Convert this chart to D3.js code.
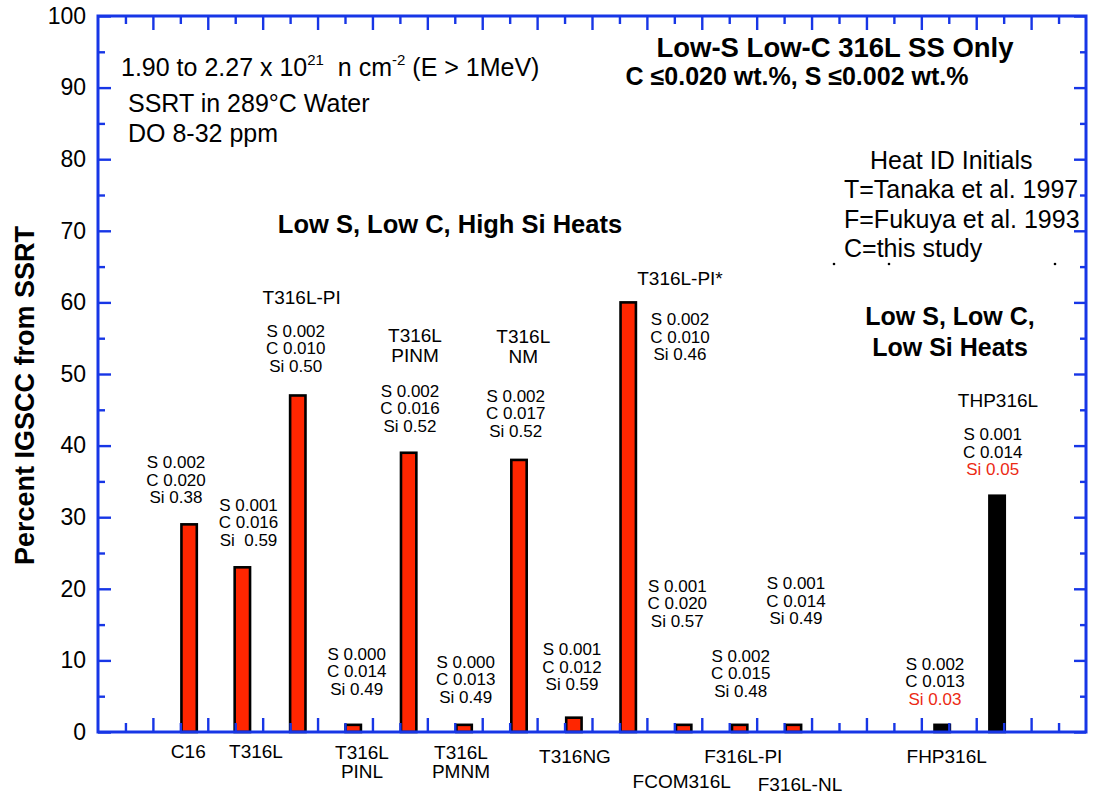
<!DOCTYPE html>
<html><head><meta charset="utf-8">
<script src="https://cdn.jsdelivr.net/npm/d3@7"></script>
<style>
body{margin:0;background:#fff;}
svg{display:block;}
text{font-family:"Liberation Sans",Arial,Helvetica,sans-serif;fill:#000;white-space:pre;}
</style>
</head><body>
<svg id="chart" width="1093" height="797"></svg>
<script>
// ---------- data ----------
const heats = ["C16","T316L","T316L-PI","T316L\nPINL","T316L\nPINM","T316L\nPMNM","T316L\nNM","T316NG","T316L-PI*","FCOM316L","F316L-PI","F316L-NL","FHP316L","THP316L"];
const heatPos = [1.66,2.63,3.64,4.65,5.66,6.67,7.67,8.67,9.66,10.67,11.69,12.67,15.38,16.38];
const igscc = [29,23,47,1,39,1,38,2,60,1,1,1,1,33];
const siGroup = ["high","high","high","high","high","high","high","high","high","high","high","high","low","low"];
const sulfur = ["0.002","0.001","0.002","0.000","0.002","0.000","0.002","0.001","0.002","0.001","0.002","0.001","0.002","0.001"];
const carbon = ["0.020","0.016","0.010","0.014","0.016","0.013","0.017","0.012","0.010","0.020","0.015","0.014","0.013","0.014"];
const silicon = ["0.38"," 0.59","0.50","0.49","0.52","0.49","0.52","0.59","0.46","0.57","0.48","0.49","0.03","0.05"];
const yMajor = [0,10,20,30,40,50,60,70,80,90,100];
const yMinor = [5,15,25,35,45,55,65,75,85,95];
const xMajor = d3.range(1,18);
const xMinor = d3.range(0.5,18,1);

// ---------- label layout (data units) ----------
const compPos = [[1.421,36.83],[2.742,30.87],[3.602,55.21],[4.713,10.06],[5.684,46.83],[6.699,8.98],[7.61,46.13],[8.636,10.75],[10.603,56.84],[10.554,19.6],[11.709,9.82],[12.716,19.97],[15.249,8.66],[16.3,40.78]];
const namePos = [[1.645,-3.67],[2.878,-3.67],[3.711,59.78],[4.81,-3.77],[5.775,54.43],[6.613,-3.77],[7.748,54.29],[8.69,-4.37],[10.603,62.43],[10.634,-7.86],[11.756,-4.37],[12.789,-8.2],[15.462,-4.37],[16.397,45.39]];

// ---------- styles ----------
const BLUE = "#1736e6", RED = "#ff2600", RED_TXT = "#ec2a14";
const m = {left:98, right:1086, top:16, bottom:732};

const svg = d3.select("#chart");
const x = d3.scaleLinear().domain([0,18]).range([m.left, m.right]);
const y = d3.scaleLinear().domain([0,100]).range([m.bottom, m.top]);

// bars
const barW = x(0.28) - x(0);
svg.append("g").selectAll("rect").data(igscc).join("rect")
  .attr("x",(d,i)=>x(heatPos[i]) - barW/2)
  .attr("y",d=>y(d))
  .attr("width",barW)
  .attr("height",d=>y(0)-y(d))
  .attr("fill",(d,i)=>siGroup[i]==="high"?RED:"#000")
  .attr("stroke","#000").attr("stroke-width",2.6);

// axes
function styleAxis(g){
  g.select(".domain").remove();
  g.selectAll(".tick line").attr("stroke",BLUE).attr("stroke-width",2.4);
  g.selectAll(".tick text").attr("fill","#000").style("font-size","23px").style("font-family",'"Liberation Sans",Arial,sans-serif');
}
svg.append("g").attr("transform",`translate(${m.left},0)`)
  .call(d3.axisLeft(y).tickValues(yMajor).tickSize(-13).tickPadding(12).tickFormat(d3.format("d"))).call(styleAxis);
svg.append("g").attr("transform",`translate(${m.left},0)`)
  .call(d3.axisLeft(y).tickValues(yMinor).tickSize(-7).tickFormat("")).call(styleAxis);
svg.append("g").attr("transform",`translate(${m.right},0)`)
  .call(d3.axisRight(y).tickValues(yMajor).tickSize(-12).tickFormat("")).call(styleAxis);
svg.append("g").attr("transform",`translate(${m.right},0)`)
  .call(d3.axisRight(y).tickValues(yMinor).tickSize(-6).tickFormat("")).call(styleAxis);
svg.append("g").attr("transform",`translate(0,${m.bottom})`)
  .call(d3.axisBottom(x).tickValues(xMajor).tickSize(-14).tickFormat("")).call(styleAxis);
svg.append("g").attr("transform",`translate(0,${m.bottom})`)
  .call(d3.axisBottom(x).tickValues(xMinor).tickSize(-9).tickFormat("")).call(styleAxis);
svg.append("g").attr("transform",`translate(0,${m.top})`)
  .call(d3.axisTop(x).tickValues(xMajor).tickSize(-14).tickFormat("")).call(styleAxis);
svg.append("g").attr("transform",`translate(0,${m.top})`)
  .call(d3.axisTop(x).tickValues(xMinor).tickSize(-8).tickFormat("")).call(styleAxis);

// frame
svg.append("rect").attr("x",m.left).attr("y",m.top).attr("width",m.right-m.left).attr("height",m.bottom-m.top)
  .attr("fill","none").attr("stroke",BLUE).attr("stroke-width",3);

// y title
svg.append("text").attr("transform",`translate(34,${(225+566)/2}) rotate(-90)`)
  .attr("text-anchor","middle").style("font-size","27px").style("font-weight","bold")
  .text("Percent IGSCC from SSRT");

// composition labels
const comp = svg.append("g").style("font-size","17px");
heats.forEach((h,i)=>{
  const t = comp.append("text").attr("x",x(compPos[i][0])).attr("y",y(compPos[i][1])).attr("text-anchor","middle");
  t.append("tspan").attr("x",x(compPos[i][0])).attr("dy",0).text("S " + sulfur[i]);
  t.append("tspan").attr("x",x(compPos[i][0])).attr("dy",17.5).text("C " + carbon[i]);
  t.append("tspan").attr("x",x(compPos[i][0])).attr("dy",17.5).text("Si " + silicon[i])
    .style("fill", siGroup[i]==="low" ? RED_TXT : "#000");
});

// heat names
const names = svg.append("g").style("font-size","19px");
heats.forEach((h,i)=>{
  const t = names.append("text").attr("text-anchor","middle").attr("y",y(namePos[i][1]));
  h.split("\n").forEach((line,k)=>{
    t.append("tspan").attr("x",x(namePos[i][0])).attr("dy",k===0?0:19.5).text(line);
  });
});

// annotations
const ann = svg.append("g");
const t1 = ann.append("text").attr("x",121).attr("y",76).style("font-size","25px");
t1.append("tspan").text("1.90 to 2.27 x 10");
t1.append("tspan").attr("dy",-11).style("font-size","15px").text("21");
t1.append("tspan").attr("dy",11).text("  n cm");
t1.append("tspan").attr("dy",-11).style("font-size","15px").text("-2");
t1.append("tspan").attr("dy",11).text(" (E > 1MeV)");
ann.append("text").attr("x",128).attr("y",112).style("font-size","25px").text("SSRT in 289°C Water");
ann.append("text").attr("x",128).attr("y",142).style("font-size","25px").text("DO 8-32 ppm");

ann.append("text").attr("x",835).attr("y",57).attr("text-anchor","middle")
  .style("font-size","27.5px").style("font-weight","bold").text("Low-S Low-C 316L SS Only");
ann.append("text").attr("x",797).attr("y",85).attr("text-anchor","middle")
  .style("font-size","25px").style("font-weight","bold").text("C \u22640.020 wt.%, S \u22640.002 wt.%");

ann.append("text").attr("x",870).attr("y",169).style("font-size","25px").text("Heat ID Initials");
ann.append("text").attr("x",844).attr("y",198).style("font-size","25px").text("T=Tanaka et al. 1997");
ann.append("text").attr("x",844).attr("y",228).style("font-size","25px").text("F=Fukuya et al. 1993");
ann.append("text").attr("x",844).attr("y",257).style("font-size","25px").text("C=this study");
[[834,264],[889,264],[1055,264]].forEach(p=>{
  ann.append("circle").attr("cx",p[0]).attr("cy",p[1]).attr("r",1.3).attr("fill","#000");
});

ann.append("text").attr("x",450).attr("y",233).attr("text-anchor","middle")
  .style("font-size","25.5px").style("font-weight","bold").text("Low S, Low C, High Si Heats");
ann.append("text").attr("x",950).attr("y",325).attr("text-anchor","middle")
  .style("font-size","25px").style("font-weight","bold").text("Low S, Low C,");
ann.append("text").attr("x",950).attr("y",356).attr("text-anchor","middle")
  .style("font-size","25px").style("font-weight","bold").text("Low Si Heats");
</script>
</body></html>
